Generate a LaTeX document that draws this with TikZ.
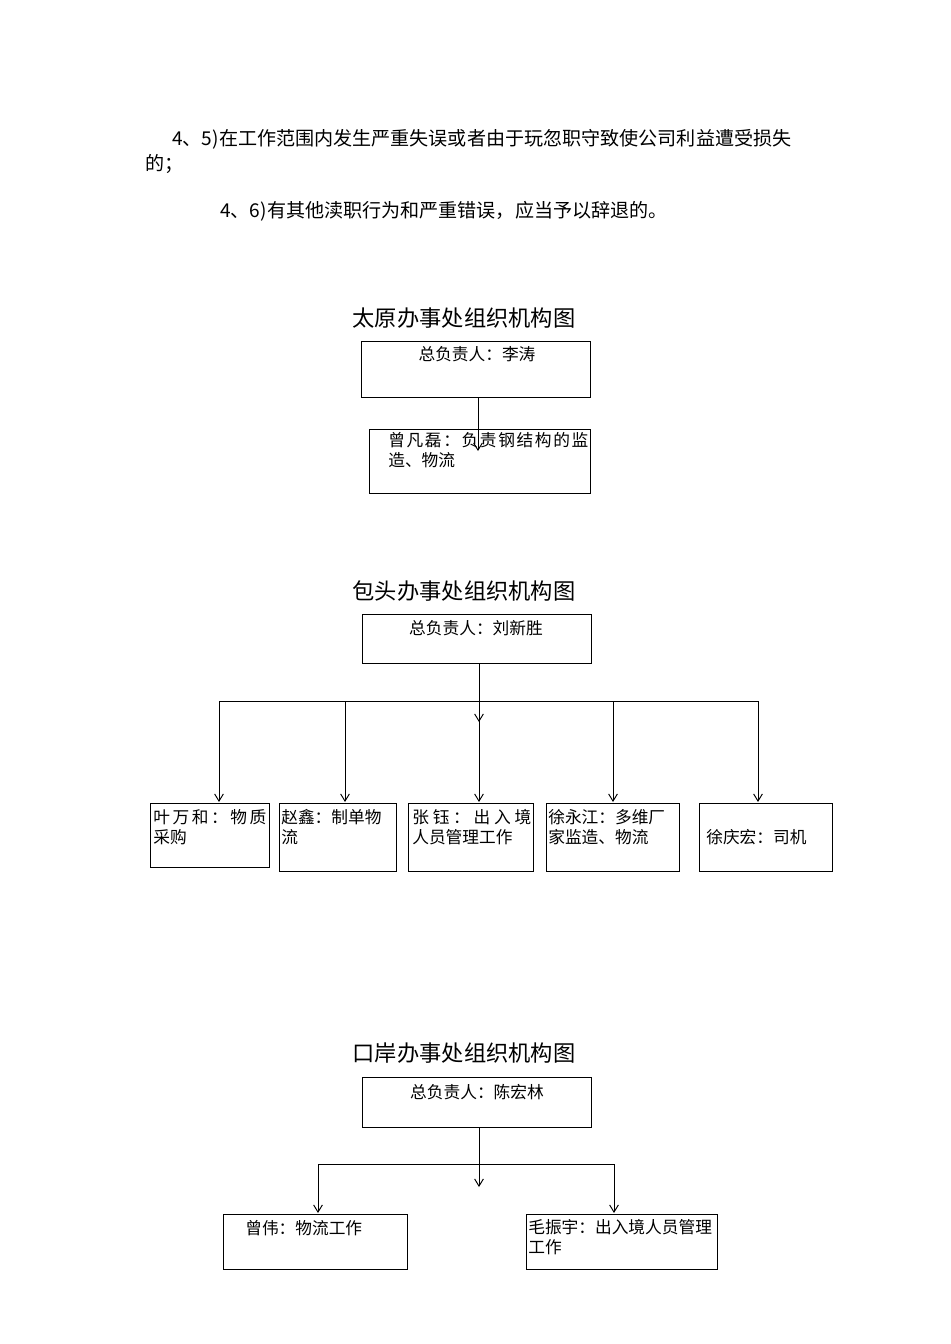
\documentclass[tikz,border=0pt]{standalone}
\usepackage{fontspec}
\setmainfont{Noto Sans CJK SC}
\usetikzlibrary{arrows.meta,positioning}

\newlength\pxu
\setlength\pxu{0.22105mm}

\tikzset{
  box/.style={draw,line width=0.6pt,inner sep=0pt},
  boxtext/.style={font=\fontsize{10.5}{12}\selectfont,inner sep=0pt,align=left},
  title/.style={font=\fontsize{14}{16}\selectfont,inner sep=0pt},
  body/.style={font=\fontsize{12}{14}\selectfont,inner sep=0pt,anchor=base west},
  link/.style={line width=0.6pt,-{Straight Barb[length=4.5pt,width=5.5pt]}}
}

\begin{document}
\begin{tikzpicture}[x=\pxu,y=-\pxu]
\useasboundingbox (0,0) rectangle (950,1344);

% text above the charts
\node[body] (p1) at (172,146) {4、5)在工作范围内发生严重失误或者由于玩忽职守致使公司利益遭受损失};
\node[body] (p2) at (145,171) {的；};
\node[body] (p3) at (220,218) {4、6)有其他渎职行为和严重错误，应当予以辞退的。};


% taiyuan
\begin{scope}
\node[title] (tyt) at (464,318) {太原办事处组织机构图};

\node[box,anchor=north west,minimum width=229\pxu,minimum height=56\pxu] (ty0) at (361,341) {};
\node[box,anchor=north west,minimum width=221\pxu,minimum height=64\pxu] (ty1) at (369,429) {};

\node[boxtext] (ty0l) at (477,354) {总负责人：李涛};
% base of a two line node = last line
\node[boxtext,anchor=base west] (ty1l) at (388,466)
  {\makebox[200\pxu][s]{曾\hfil 凡\hfil 磊\hfil ：\hfil 负\hfil 责\hfil 钢\hfil 结\hfil 构\hfil 的\hfil 监}\\造、物流};

\coordinate (tya) at (478,451);
\draw[link] (ty0.south -| tya) -- (tya);
\end{scope}


% baotou
\begin{scope}
\node[title] (btt) at (464,591) {包头办事处组织机构图};

\node[box,anchor=north west,minimum width=229\pxu,minimum height=49\pxu] (bt0) at (362,614) {};
\node[boxtext] (bt0l) at (476,628) {总负责人：刘新胜};

\node[box,anchor=north west,minimum width=119\pxu,minimum height=64\pxu] (bt1) at (150,803) {};
\node[box,anchor=north west,minimum width=117\pxu,minimum height=68\pxu] (bt2) at (279,803) {};
\node[box,anchor=north west,minimum width=125\pxu,minimum height=68\pxu] (bt3) at (408,803) {};
\node[box,anchor=north west,minimum width=133\pxu,minimum height=68\pxu] (bt4) at (546,803) {};
\node[box,anchor=north west,minimum width=133\pxu,minimum height=68\pxu] (bt5) at (699,803) {};

\node[boxtext,anchor=base west] (bt1l) at (153,843)
  {\makebox[113\pxu][s]{叶\hfil 万\hfil 和\hfil ：\hfil 物\hfil 质}\\采购};
\node[boxtext,anchor=base west] (bt2l) at (281,843) {赵鑫：制单物\\流};
\node[boxtext,anchor=base west] (bt3l) at (412,843)
  {\makebox[119\pxu][s]{张\hfil 钰\hfil ：\hfil 出\hfil 入\hfil 境}\\人员管理工作};
\node[boxtext,anchor=base west] (bt4l) at (548,843) {徐永江：多维厂\\家监造、物流};
\node[boxtext,anchor=base west] (bt5l) at (706,843) {徐庆宏：司机};

\coordinate (bthub) at (479,701);
\coordinate (btmid) at (479,722);
\coordinate (bta1) at (219,802);
\coordinate (bta2) at (345,802);
\coordinate (bta3) at (479,802);
\coordinate (bta4) at (613,802);
\coordinate (bta5) at (758,802);

\draw[link] (bt0.south -| bthub) -- (btmid);
\draw[line width=0.6pt] (bta1 |- bthub) -- (bta5 |- bthub);
\foreach \i in {1,...,5}
  \draw[link] (bta\i |- bthub) -- (bta\i);
\end{scope}


% kouan
\begin{scope}
\node[title] (kat) at (464,1053) {口岸办事处组织机构图};

\node[box,anchor=north west,minimum width=229\pxu,minimum height=50\pxu] (ka0) at (362,1077) {};
\node[box,anchor=north west,minimum width=184\pxu,minimum height=55\pxu] (ka1) at (223,1214) {};
\node[box,anchor=north west,minimum width=191\pxu,minimum height=55\pxu] (ka2) at (526,1214) {};

\node[boxtext] (ka0l) at (477,1092) {总负责人：陈宏林};
\node[boxtext,anchor=base west] (ka1l) at (245,1234) {曾伟：物流工作};
\node[boxtext,anchor=base west] (ka2l) at (528,1253) {毛振宇：出入境人员管理\\工作};

\coordinate (kahub) at (479,1164);
\coordinate (kamid) at (479,1187);
\coordinate (kaa1) at (318,1213);
\coordinate (kaa2) at (614,1213);

\draw[link] (ka0.south -| kahub) -- (kamid);
\draw[line width=0.6pt] (kaa1 |- kahub) -- (kaa2 |- kahub);
\draw[link] (kaa1 |- kahub) -- (kaa1);
\draw[link] (kaa2 |- kahub) -- (kaa2);
\end{scope}

\end{tikzpicture}
\end{document}
